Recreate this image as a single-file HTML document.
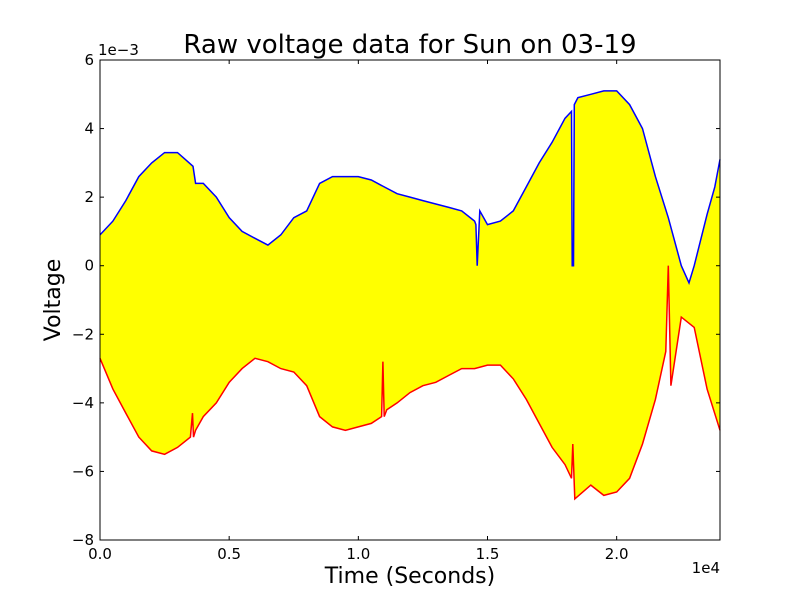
<!DOCTYPE html>
<html><head><meta charset="utf-8"><style>
body{margin:0;background:#fff;}
svg{display:block;font-family:"DejaVu Sans","Liberation Sans",sans-serif;}
</style></head><body>
<svg id="chart" width="800" height="600" viewBox="0 0 800 600">
<rect x="0" y="0" width="800" height="600" fill="#fff"/>
<text x="410" y="53" font-size="26" text-anchor="middle">Raw voltage data for Sun on 03-19</text>
<text x="98" y="55" font-size="15">1e−3</text>
<text x="720" y="573" font-size="15" text-anchor="end">1e4</text>
<text x="410" y="583" font-size="22" text-anchor="middle">Time (Seconds)</text>
<text x="60" y="300" font-size="22" text-anchor="middle" transform="rotate(-90 60 300)">Voltage</text>
<g id="plot"></g>
</svg>
<script>
const upperT=[0,500,1000,1500,2000,2500,3000,3300,3600,3700,4000,4500,5000,5500,6000,6500,7000,7500,8000,8500,9000,9500,10000,10500,11000,11500,12000,12500,13000,13500,14000,14500,14550,14600,14700,15000,15500,16000,16500,17000,17500,18000,18250,18280,18330,18360,18500,19000,19500,20000,20500,21000,21500,22000,22500,22800,23000,23500,23800,24000];
const upperV=[0.9,1.3,1.9,2.6,3.0,3.3,3.3,3.1,2.9,2.4,2.4,2.0,1.4,1.0,0.8,0.6,0.9,1.4,1.6,2.4,2.6,2.6,2.6,2.5,2.3,2.1,2.0,1.9,1.8,1.7,1.6,1.3,1.2,0.0,1.6,1.2,1.3,1.6,2.3,3.0,3.6,4.3,4.5,0.0,0.0,4.7,4.9,5.0,5.1,5.1,4.7,4.0,2.6,1.4,0.0,-0.5,0.0,1.5,2.3,3.1];
const lowerT=[0,500,1000,1500,2000,2500,3000,3500,3580,3620,3700,4000,4500,5000,5500,6000,6500,7000,7500,8000,8500,9000,9500,10000,10500,10900,10950,11000,11100,11500,12000,12500,13000,13500,14000,14500,15000,15500,16000,16500,17000,17500,18000,18250,18300,18380,19000,19500,20000,20500,21000,21500,21900,22000,22100,22500,23000,23500,24000];
const lowerV=[-2.7,-3.6,-4.3,-5.0,-5.4,-5.5,-5.3,-5.0,-4.3,-5.0,-4.8,-4.4,-4.0,-3.4,-3.0,-2.7,-2.8,-3.0,-3.1,-3.5,-4.4,-4.7,-4.8,-4.7,-4.6,-4.4,-2.8,-4.4,-4.2,-4.0,-3.7,-3.5,-3.4,-3.2,-3.0,-3.0,-2.9,-2.9,-3.3,-3.9,-4.6,-5.3,-5.8,-6.2,-5.2,-6.8,-6.4,-6.7,-6.6,-6.2,-5.2,-3.9,-2.5,0.0,-3.5,-1.5,-1.8,-3.6,-4.8];
const xTicks=[0,0.5,1.0,1.5,2.0];
const yTicks=[-8,-6,-4,-2,0,2,4,6];
const X0=100,X1=720,Y0=60,Y1=540;
const sx=t=>X0+t/24000*(X1-X0);
const sy=v=>Y1-(v+8)/14*(Y1-Y0);
const NS='http://www.w3.org/2000/svg';
const g=document.getElementById('plot');
function mk(tag,attrs){const e=document.createElementNS(NS,tag);for(const k in attrs)e.setAttribute(k,attrs[k]);g.appendChild(e);return e;}
const up=upperT.map((t,i)=>sx(t).toFixed(1)+','+sy(upperV[i]).toFixed(1));
const lo=lowerT.map((t,i)=>sx(t).toFixed(1)+','+sy(lowerV[i]).toFixed(1));
const fill=mk('polygon',{points:up.join(' ')+' '+lo.slice().reverse().join(' '),fill:'#ffff00',stroke:'none'});


const ul=mk('polyline',{points:up.join(' '),fill:'none',stroke:'#0000ff','stroke-width':1.5});


const ll=mk('polyline',{points:lo.join(' '),fill:'none',stroke:'#ff0000','stroke-width':1.5});


const fr=mk('rect',{x:X0,y:Y0,width:X1-X0,height:Y1-Y0,fill:'none',stroke:'#000','stroke-width':1});


xTicks.forEach(v=>{const x=sx(v*10000);
 mk('line',{x1:x,y1:Y1,x2:x,y2:Y1-4,stroke:'#000'});mk('line',{x1:x,y1:Y0,x2:x,y2:Y0+4,stroke:'#000'});
 const t=mk('text',{x:x,y:Y1+19,'font-size':15,'text-anchor':'middle'});t.textContent=v.toFixed(1);
 
 });
yTicks.forEach(v=>{const y=sy(v);
 mk('line',{x1:X0,y1:y,x2:X0+4,y2:y,stroke:'#000'});mk('line',{x1:X1,y1:y,x2:X1-4,y2:y,stroke:'#000'});
 const t=mk('text',{x:X0-6,y:y+5,'font-size':15,'text-anchor':'end'});t.textContent=v<0?'−'+(-v):String(v);
 
 });
</script>
</body></html>
